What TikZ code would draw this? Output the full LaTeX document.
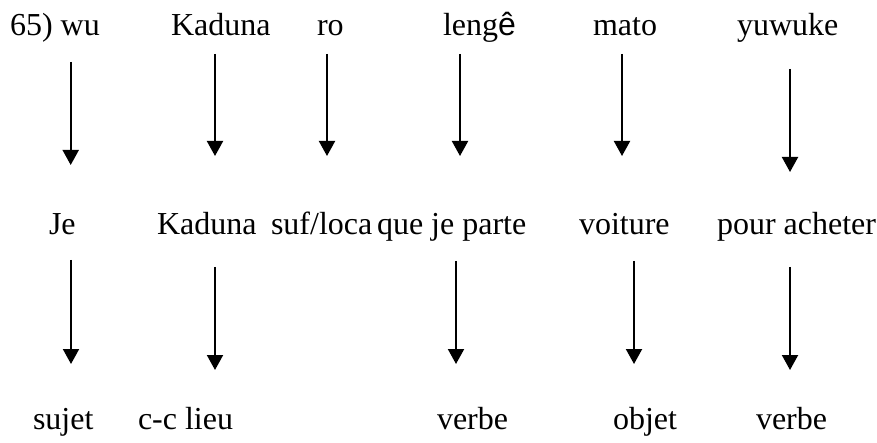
\documentclass[tikz,border=0pt]{standalone}
\usepackage{fontspec}
\setmainfont{Liberation Serif}
\newfontfamily\sansf{Liberation Sans}
\usetikzlibrary{arrows.meta}
\tikzset{
  word/.style={anchor=base west, inner sep=0pt, outer sep=0pt, font=\fontsize{32}{38}\selectfont},
  arr/.style={line width=2pt, -{Triangle[width=16pt,length=15pt]}}
}
\begin{document}
\begin{tikzpicture}[x=1pt,y=-1pt]
\useasboundingbox (0,0) rectangle (877,443);
% row 1
\node[word] (w1) at (10,36) {65) wu};
\node[word] (w2) at (171,36) {Kaduna};
\node[word] (w3) at (317,36) {ro};
\node[word] (w4) at (443,36) {leng{\sansf ê}};
\node[word] (w5) at (593,36) {mato};
\node[word] (w6) at (737,36) {yuwuke};
% row 2
\node[word] (g1) at (49,235) {Je};
\node[word] (g2) at (157,235) {Kaduna};
\node[word] (g3) at (271,235) {suf/loca};
\node[word] (g4) at (377,235) {que je parte};
\node[word] (g5) at (579,235) {voiture};
\node[word] (g6) at (717,235) {pour acheter};
% row 3
\node[word] (f1) at (33,429) {sujet};
\node[word] (f2) at (138,429) {c-c lieu};
\node[word] (f4) at (437,429) {verbe};
\node[word] (f5) at (613,429) {objet};
\node[word] (f6) at (756,429) {verbe};
% arrow ends
\coordinate (a1s) at (70.7,62);  \coordinate (a1e) at (70.7,165);
\coordinate (a2s) at (215,54);   \coordinate (a2e) at (215,156);
\coordinate (a3s) at (327,54);   \coordinate (a3e) at (327,156);
\coordinate (a4s) at (460,54);   \coordinate (a4e) at (460,156);
\coordinate (a5s) at (622,54);   \coordinate (a5e) at (622,156);
\coordinate (a6s) at (790,69);   \coordinate (a6e) at (790,172);
\coordinate (b1s) at (71,260);   \coordinate (b1e) at (71,364);
\coordinate (b2s) at (215,267);  \coordinate (b2e) at (215,370);
\coordinate (b4s) at (456,261);  \coordinate (b4e) at (456,364);
\coordinate (b5s) at (634,261);  \coordinate (b5e) at (634,364);
\coordinate (b6s) at (790,267);  \coordinate (b6e) at (790,370);
\foreach \a in {a1,a2,a3,a4,a5,a6,b1,b2,b4,b5,b6}
  \draw[arr] (\a s) -- (\a e);
\end{tikzpicture}
\end{document}
